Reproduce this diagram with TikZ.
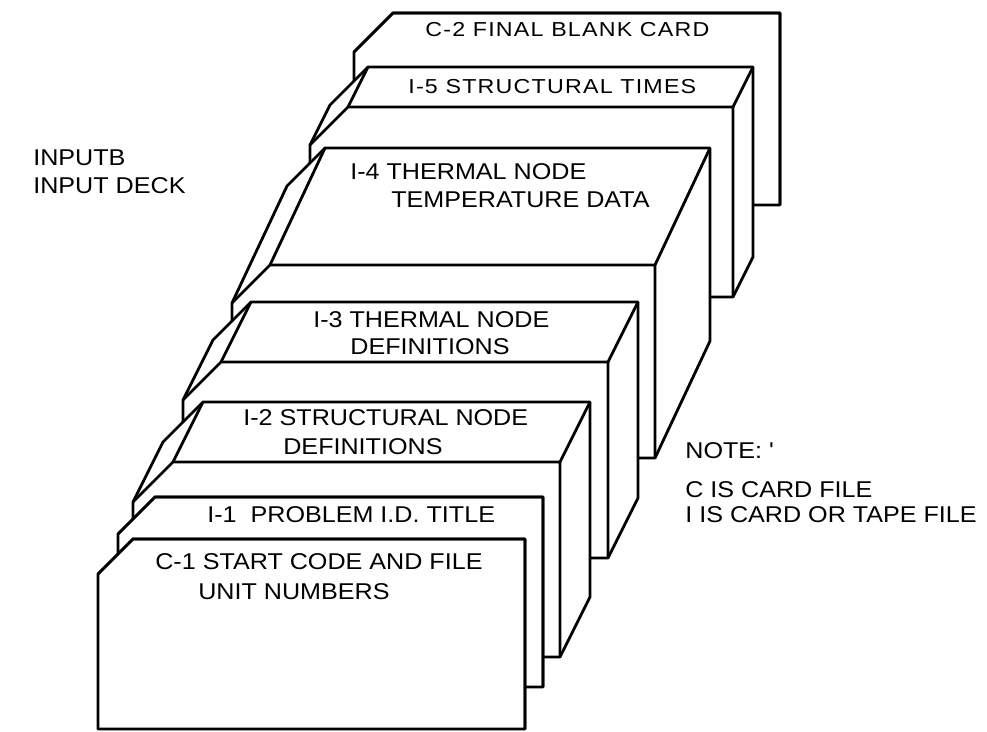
\documentclass[tikz,border=0pt]{standalone}
\usepackage{fontspec}
\setmainfont{Liberation Sans}
\newfontfamily\nearfont{Liberation Sans}[FakeStretch=1.1]
\newfontfamily\farfont{Liberation Sans}[FakeStretch=1.15,LetterSpace=6]
\usetikzlibrary{positioning}
\tikzset{
  deckline/.style={draw=black,fill=white,line width=1.6pt,line join=round},
  nearlabel/.style={anchor=west,inner sep=0pt,font=\nearfont\fontsize{13}{15}\selectfont},
  farlabel/.style={anchor=west,inner sep=0pt,font=\farfont\fontsize{11.5}{14}\selectfont},
}
% left, top, right, bottom, corner cut, depth x, depth rise
\newcommand{\deckblock}[7]{%
  \filldraw[deckline] (#1,#4) -- (#1,#2+#5) -- (#1+#6,#2+#5-#7) -- (#1+#5+#6,#2-#7)
    -- (#3+#6,#2-#7) -- (#3+#6,#4-#7) -- (#3,#4) -- cycle;
  \draw[deckline,fill=none] (#1,#2+#5) -- (#1+#5,#2) -- (#3,#2) -- (#3,#4);
  \draw[deckline,fill=none] (#1+#5,#2) -- (#1+#5+#6,#2-#7);
  \draw[deckline,fill=none] (#3,#2) -- (#3+#6,#2-#7);}

\begin{document}
\begin{tikzpicture}[x=0.2mm,y=-0.2mm]
  \useasboundingbox (0,0) rectangle (987,731);
  % back of the deck first
  \deckblock{354}{13}{780}{205}{39}{0}{0}
  \node[farlabel] (c2text) at (425,30) {C-2 FINAL BLANK CARD};
  \deckblock{310}{107}{733}{297}{38}{20}{40}
  \node[farlabel] (i5text) at (408,87) {I-5 STRUCTURAL TIMES};
  \deckblock{232}{265}{655}{458}{38}{55}{117}
  \node[nearlabel] (i4text) at (350,172) {I-4 THERMAL NODE};
  \node[nearlabel] (i4more) at (391,200) {TEMPERATURE DATA};
  \deckblock{183}{362}{608}{558}{38}{30}{60}
  \node[nearlabel] (i3text) at (313,320) {I-3 THERMAL NODE};
  \node[nearlabel] (i3more) at (350,347) {DEFINITIONS};
  \deckblock{133}{462}{560}{657}{40}{30}{60}
  \node[nearlabel] (i2text) at (243,418) {I-2 STRUCTURAL NODE};
  \node[nearlabel] (i2more) at (283,447) {DEFINITIONS};
  \deckblock{118}{497}{543}{687}{37}{0}{0}
  \node[nearlabel] (i1text) at (207,515) {I-1\ \ PROBLEM I.D. TITLE};
  \deckblock{98}{539}{525}{729}{35}{0}{0}
  \node[nearlabel] (c1text) at (155,562) {C-1 START CODE AND FILE};
  \node[nearlabel] (c1more) at (198,592) {UNIT NUMBERS};
  % titles and note
  \node[nearlabel] (deckname) at (33,158) {INPUTB};
  \node[nearlabel] (decktype) at (33,186) {INPUT DECK};
  \node[nearlabel] (notehead) at (685,451) {NOTE: '};
  \node[nearlabel] (notec) at (685,490) {C IS CARD FILE};
  \node[nearlabel] (notei) at (685,515) {I IS CARD OR TAPE FILE};
\end{tikzpicture}
\end{document}
